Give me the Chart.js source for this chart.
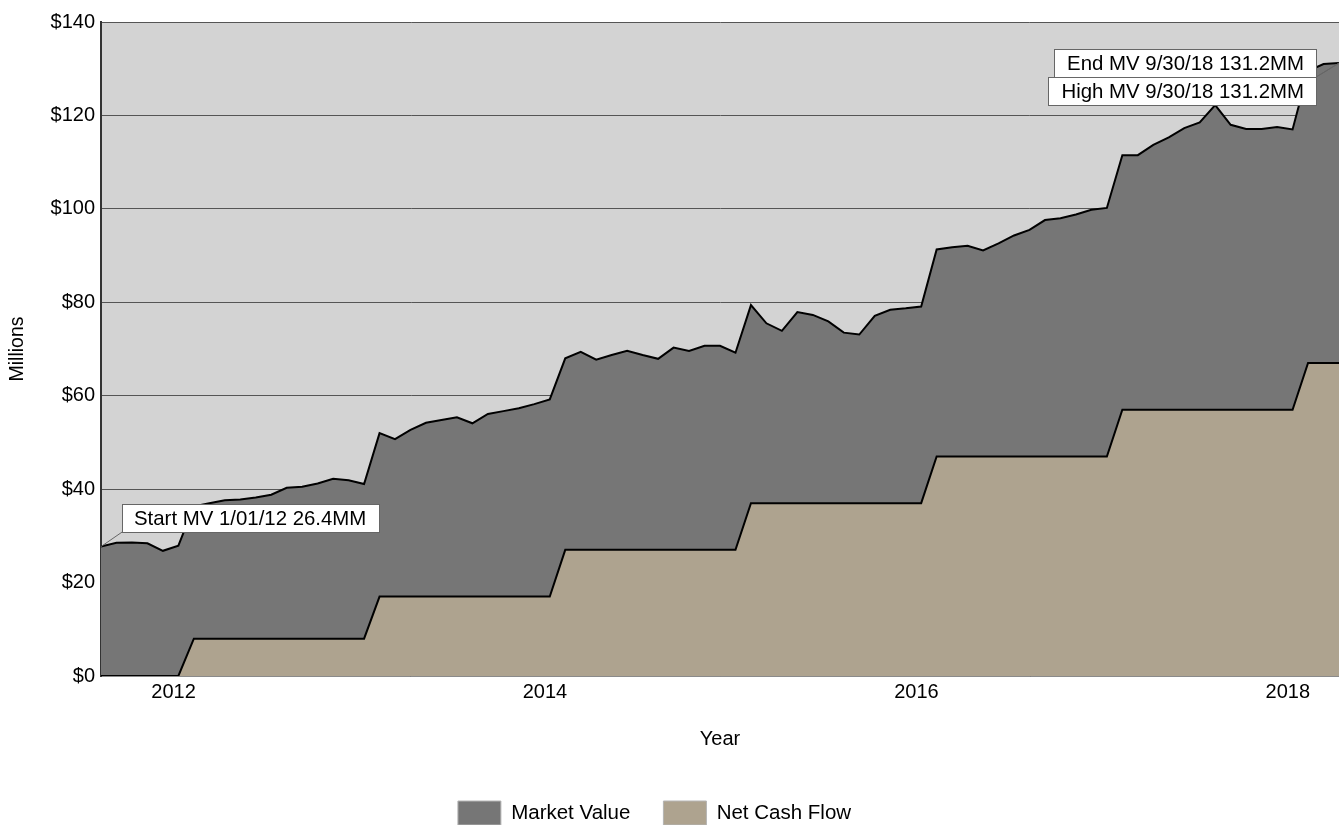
<!DOCTYPE html>
<html>
<head>
<meta charset="utf-8">
<script src="https://cdn.jsdelivr.net/npm/chart.js@4.4.1/dist/chart.umd.min.js"></script>
<style>
html,body{margin:0;padding:0;background:#ffffff;}
canvas{display:block;}
</style>
</head>
<body>
<canvas id="c" width="1339" height="825"></canvas>
<script>
// ---------------- data ----------------
const seriesNames = ['Market Value', 'Net Cash Flow'];

const marketValue = [
  27.7, 28.5, 28.6, 28.4, 26.8, 27.9,
  36.3, 37.0, 37.6, 37.8, 38.2, 38.8, 40.3, 40.5, 41.2, 42.2, 41.9, 41.1,
  52.0, 50.7, 52.7, 54.2, 54.8, 55.4, 54.1, 56.1, 56.7, 57.3, 58.2, 59.2,
  68.0, 69.4, 67.7, 68.7, 69.6, 68.7, 67.9, 70.3, 69.6, 70.7, 70.7, 69.2,
  79.4, 75.5, 73.9, 77.9, 77.3, 75.9, 73.5, 73.1, 77.1, 78.4, 78.7, 79.1,
  91.3, 91.8, 92.1, 91.1, 92.6, 94.3, 95.5, 97.6, 98.0, 98.8, 99.8, 100.2,
  111.5, 111.5, 113.7, 115.3, 117.3, 118.5, 122.2, 118.0, 117.1, 117.1, 117.5, 117.0,
  129.5, 131.0, 131.2
];

const netCashFlow = [
  0, 0, 0, 0, 0, 0,
  8, 8, 8, 8, 8, 8, 8, 8, 8, 8, 8, 8,
  17, 17, 17, 17, 17, 17, 17, 17, 17, 17, 17, 17,
  27, 27, 27, 27, 27, 27, 27, 27, 27, 27, 27, 27,
  37, 37, 37, 37, 37, 37, 37, 37, 37, 37, 37, 37,
  47, 47, 47, 47, 47, 47, 47, 47, 47, 47, 47, 47,
  57, 57, 57, 57, 57, 57, 57, 57, 57, 57, 57, 57,
  67, 67, 67
];

// x positions of the year ticks, in period-index units
const xTickValues = [4.69, 28.69, 52.69, 76.69];
const xTickLabels = ['2012', '2014', '2016', '2018'];
const yTickLabels = ['$0', '$20', '$40', '$60', '$80', '$100', '$120', '$140'];

const xTitle = 'Year';
const yTitle = 'Millions';
const annotationTexts = ['Start MV 1/01/12 26.4MM', 'End MV 9/30/18 131.2MM', 'High MV 9/30/18 131.2MM'];

// ---------------- styles ----------------
const FONT = "'Liberation Sans', Arial, sans-serif";

const periodIndex = marketValue.map((_, i) => i);
const mvPoints = periodIndex.map((x, i) => ({ x: x, y: marketValue[i] }));
const ncfPoints = periodIndex.map((x, i) => ({ x: x, y: netCashFlow[i] }));

const layoutPlugin = {
  id: 'layoutTweaks',
  beforeDraw(chart) {
    const { ctx, chartArea: a } = chart;
    ctx.save();
    ctx.fillStyle = '#d3d3d3';
    ctx.fillRect(a.left, a.top, a.right - a.left, a.bottom - a.top);
    ctx.restore();
  },
  afterLayout(chart) {
    const lg = chart.legend;
    if (lg) {
      lg.top += 10;
      lg.bottom += 10;
      lg.right -= 30;
    }
  }
};

function drawBox(ctx, left, top, w, h) {
  ctx.fillStyle = '#ffffff';
  ctx.fillRect(left, top, w, h);
  ctx.strokeStyle = '#666666';
  ctx.lineWidth = 1;
  ctx.strokeRect(Math.round(left) + 0.5, Math.round(top) + 0.5, Math.round(w), Math.round(h));
}

const annotationPlugin = {
  id: 'mvAnnotations',
  afterDatasetsDraw(chart) {
    const { ctx } = chart;
    const xs = chart.scales.x, ys = chart.scales.y;
    ctx.save();
    ctx.font = '20.4px ' + FONT;
    ctx.textBaseline = 'middle';
    const bh = 28;

    // start annotation
    const i0 = 0;
    const p0x = xs.getPixelForValue(periodIndex[i0]);
    const p0y = ys.getPixelForValue(marketValue[i0]);
    const w0 = ctx.measureText(annotationTexts[0]).width + 25;
    const b0l = p0x + 21, b0t = p0y - 42.5;
    ctx.strokeStyle = '#666666';
    ctx.lineWidth = 1;
    ctx.beginPath(); ctx.moveTo(p0x, p0y); ctx.lineTo(b0l, b0t + bh); ctx.stroke();
    drawBox(ctx, b0l, b0t, w0, bh);
    ctx.fillStyle = '#000000';
    ctx.textAlign = 'left';
    ctx.fillText(annotationTexts[0], b0l + 12, b0t + bh / 2 + 1);

    // end + high annotations
    const iEnd = marketValue.length - 1;
    let iHigh = 0;
    marketValue.forEach((v, i) => { if (v >= marketValue[iHigh]) iHigh = i; });
    const peX = xs.getPixelForValue(periodIndex[iEnd]);
    const peY = ys.getPixelForValue(marketValue[iEnd]);
    const phX = xs.getPixelForValue(periodIndex[iHigh]);
    const phY = ys.getPixelForValue(marketValue[iHigh]);
    const right = peX - 23;
    const eTop = peY - 14;
    const hTop = phY + 14;
    const wE = ctx.measureText(annotationTexts[1]).width + 25;
    const wH = ctx.measureText(annotationTexts[2]).width + 25;
    ctx.strokeStyle = '#666666';
    ctx.beginPath(); ctx.moveTo(right, eTop + bh); ctx.lineTo(peX, peY); ctx.stroke();
    ctx.beginPath(); ctx.moveTo(right, hTop); ctx.lineTo(phX, phY); ctx.stroke();
    drawBox(ctx, right - wE, eTop, wE, bh);
    drawBox(ctx, right - wH, hTop, wH, bh);
    ctx.fillStyle = '#000000';
    ctx.textAlign = 'right';
    ctx.fillText(annotationTexts[1], right - 12, eTop + bh / 2 + 1);
    ctx.fillText(annotationTexts[2], right - 12, hTop + bh / 2 + 1);
    ctx.restore();
  }
};

Chart.defaults.font.family = FONT;
Chart.defaults.color = '#000000';

new Chart(document.getElementById('c'), {
  type: 'line',
  data: {
    datasets: [
      {
        label: seriesNames[0],
        data: mvPoints,
        order: 2,
        backgroundColor: '#767676',
        borderColor: '#000000',
        borderWidth: 2,
        fill: 'origin',
        pointRadius: 0,
        tension: 0
      },
      {
        label: seriesNames[1],
        data: ncfPoints,
        order: 1,
        backgroundColor: '#aea38f',
        borderColor: '#000000',
        borderWidth: 2,
        fill: 'origin',
        pointRadius: 0,
        tension: 0
      }
    ]
  },
  options: {
    responsive: false,
    animation: false,
    layout: { padding: { top: 22, right: 0, bottom: 0, left: 0 } },
    plugins: {
      tooltip: { enabled: false },
      legend: {
        position: 'bottom',
        labels: {
          font: { size: 20.5, family: FONT },
          color: '#000000',
          boxWidth: 43,
          boxHeight: 24,
          padding: 33,
          sort: (a, b) => a.datasetIndex - b.datasetIndex,
          generateLabels: (chart) => Chart.defaults.plugins.legend.labels.generateLabels(chart)
            .map(l => Object.assign({}, l, { lineWidth: 1, strokeStyle: '#b5b5b5' }))
        }
      }
    },
    scales: {
      x: {
        type: 'linear',
        min: 0,
        max: periodIndex[periodIndex.length - 1],
        offset: false,
        afterFit(scale) { scale.height = 82; },
        afterBuildTicks(scale) { scale.ticks = xTickValues.map(v => ({ value: v })); },
        ticks: {
          autoSkip: false,
          maxRotation: 0,
          padding: 4,
          font: { size: 20, family: FONT },
          color: '#000000',
          callback: (v, i) => xTickLabels[i]
        },
        grid: { display: false, drawTicks: false },
        border: { display: true, color: '#8a8a8a', width: 1 },
        title: {
          display: true,
          text: xTitle,
          font: { size: 20, family: FONT },
          color: '#000000',
          padding: { top: 0, bottom: 7 }
        }
      },
      y: {
        min: 0,
        max: 140,
        afterFit(scale) { scale.width = 101; },
        ticks: {
          stepSize: 20,
          padding: 6,
          font: { size: 20, family: FONT },
          color: '#000000',
          callback: (v, i) => yTickLabels[i]
        },
        grid: { color: '#555555', lineWidth: 1, drawTicks: false },
        border: { display: true, color: '#333333', width: 2 },
        title: {
          display: true,
          text: yTitle,
          font: { size: 19.5, family: FONT },
          color: '#000000',
          padding: { top: 6, bottom: 0 }
        }
      }
    }
  },
  plugins: [layoutPlugin, annotationPlugin]
});
</script>
</body>
</html>
